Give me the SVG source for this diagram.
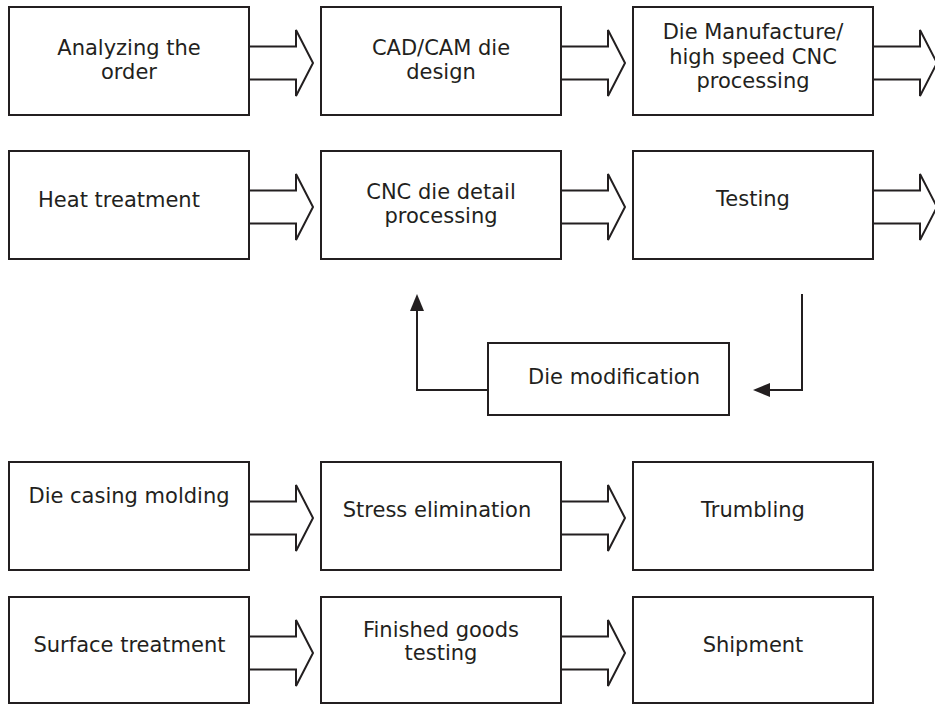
<svg xmlns="http://www.w3.org/2000/svg" xmlns:xlink="http://www.w3.org/1999/xlink" width="935" height="704" viewBox="0 0 935 704">
  <style>
    .box { fill: #ffffff; stroke: #231f20; stroke-width: 2; }
    .lbl { font-family: "DejaVu Sans", Verdana, sans-serif; font-size: 21px; fill: #231f20; text-anchor: middle; }
    .block { fill: #ffffff; stroke: #231f20; stroke-width: 2; stroke-linejoin: miter; }
    .line { fill: none; stroke: #231f20; stroke-width: 2; }
    .head { fill: #231f20; stroke: none; }
  </style>
  <defs>
    <!-- hollow block arrow, origin at the source box edge, vertically centred on the shaft -->
    <path id="blockArrow" class="block" d="M0,-16.5 H47 V-33 L64,0 L47,33 V16.5 H0"/>
  </defs>

  <rect width="935" height="704" fill="#ffffff"/>

  <!-- connectors -->
  <g id="connectors">
    <use xlink:href="#blockArrow" x="249" y="63"/>
    <use xlink:href="#blockArrow" x="561" y="63"/>
    <use xlink:href="#blockArrow" x="873" y="63"/>
    <use xlink:href="#blockArrow" x="249" y="207"/>
    <use xlink:href="#blockArrow" x="561" y="207"/>
    <use xlink:href="#blockArrow" x="873" y="207"/>
    <use xlink:href="#blockArrow" x="249" y="518"/>
    <use xlink:href="#blockArrow" x="561" y="518"/>
    <use xlink:href="#blockArrow" x="249" y="653"/>
    <use xlink:href="#blockArrow" x="561" y="653"/>

    <!-- rework loop: Testing -> Die modification -> CNC die detail processing -->
    <polyline class="line" points="802,294 802,390 768,390"/>
    <polygon class="head" points="753,390 770,383 770,397"/>
    <polyline class="line" points="488,390 417,390 417,309"/>
    <polygon class="head" points="417,294 410,311 424,311"/>
  </g>

  <!-- row 1 -->
  <g id="analyzing-order">
    <rect class="box" x="9" y="7" width="240" height="108"/>
    <text class="lbl" x="129" y="55">Analyzing the</text>
    <text class="lbl" x="129" y="79">order</text>
  </g>
  <g id="cad-cam-design">
    <rect class="box" x="321" y="7" width="240" height="108"/>
    <text class="lbl" x="441" y="55">CAD/CAM die</text>
    <text class="lbl" x="441" y="79">design</text>
  </g>
  <g id="die-manufacture">
    <rect class="box" x="633" y="7" width="240" height="108"/>
    <text class="lbl" x="753" y="39">Die Manufacture/</text>
    <text class="lbl" x="753" y="63.5">high speed CNC</text>
    <text class="lbl" x="753" y="88">processing</text>
  </g>

  <!-- row 2 -->
  <g id="heat-treatment">
    <rect class="box" x="9" y="151" width="240" height="108"/>
    <text class="lbl" x="119" y="206.5">Heat treatment</text>
  </g>
  <g id="cnc-detail-processing">
    <rect class="box" x="321" y="151" width="240" height="108"/>
    <text class="lbl" x="441" y="199">CNC die detail</text>
    <text class="lbl" x="441" y="222.5">processing</text>
  </g>
  <g id="testing">
    <rect class="box" x="633" y="151" width="240" height="108"/>
    <text class="lbl" x="753" y="206">Testing</text>
  </g>

  <!-- rework -->
  <g id="die-modification">
    <rect class="box" x="488" y="343" width="241" height="72"/>
    <text class="lbl" x="614" y="383.5">Die modification</text>
  </g>

  <!-- row 3 -->
  <g id="die-casing-molding">
    <rect class="box" x="9" y="462" width="240" height="108"/>
    <text class="lbl" x="129" y="503">Die casing molding</text>
  </g>
  <g id="stress-elimination">
    <rect class="box" x="321" y="462" width="240" height="108"/>
    <text class="lbl" x="437" y="516.5">Stress elimination</text>
  </g>
  <g id="trumbling">
    <rect class="box" x="633" y="462" width="240" height="108"/>
    <text class="lbl" x="753" y="517">Trumbling</text>
  </g>

  <!-- row 4 -->
  <g id="surface-treatment">
    <rect class="box" x="9" y="597" width="240" height="106"/>
    <text class="lbl" x="129.5" y="651.5">Surface treatment</text>
  </g>
  <g id="finished-goods-testing">
    <rect class="box" x="321" y="597" width="240" height="106"/>
    <text class="lbl" x="441" y="636.5">Finished goods</text>
    <text class="lbl" x="441" y="660">testing</text>
  </g>
  <g id="shipment">
    <rect class="box" x="633" y="597" width="240" height="106"/>
    <text class="lbl" x="753" y="651.5">Shipment</text>
  </g>
</svg>
